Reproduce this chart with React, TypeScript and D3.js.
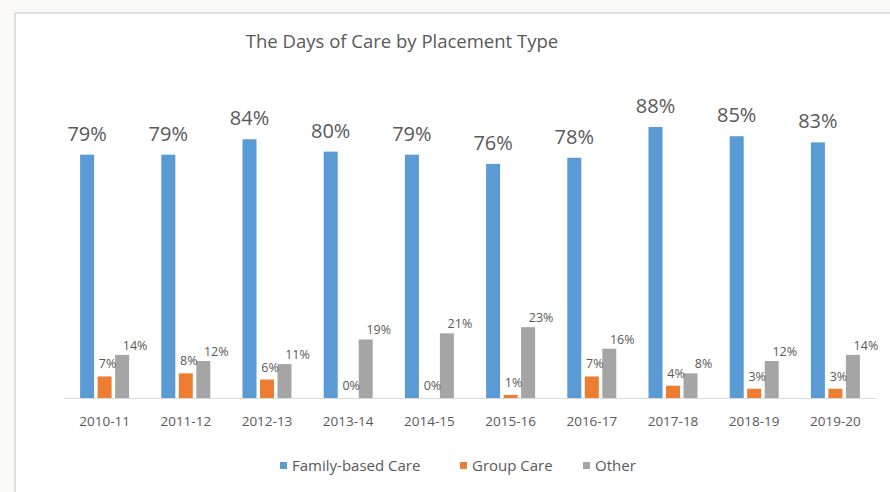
import React, { useEffect } from "react";
import * as d3 from "d3";

const categories = ["2010-11", "2011-12", "2012-13", "2013-14", "2014-15", "2015-16", "2016-17", "2017-18", "2018-19", "2019-20"];
const familyBased = [79, 79, 84, 80, 79, 76, 78, 88, 85, 83];
const groupCare = [7, 8, 6, 0, 0, 1, 7, 4, 3, 3];
const other = [14, 12, 11, 19, 21, 23, 16, 8, 12, 14];
const seriesNames = ["Family-based Care", "Group Care", "Other"];
const seriesColors = ["#5b9bd5", "#ed7d31", "#a5a5a5"];
const title = "The Days of Care by Placement Type";

const W = 890;
const H = 492;
const FONT = "'Open Sans', 'Noto Sans', sans-serif";
const TXT = "#595959";

export default function App() {
  useEffect(() => {
    document.body.style.margin = "0";
    document.body.style.overflow = "hidden";
    document.documentElement.style.overflow = "hidden";
  }, []);

  const x = d3.scaleBand<string>().domain(categories).range([64, 876]).padding(0);
  const y = d3.scaleLinear().domain([0, 100]).range([398, 90]);
  const series = [familyBased, groupCare, other];
  const barW = 14;
  const spacing = 17.5;

  const cx = (c: string) => (x(c) as number) + x.bandwidth() / 2;

  return (
    <svg width={W} height={H} style={{ position: "absolute", left: 0, top: 0, display: "block" }} fontFamily={FONT}>
      <rect x={0} y={0} width={W} height={H} fill="#fcfaf6" />
      <rect x={15} y={13} width={W - 15} height={H - 13} fill="#ffffff" />
      <line x1={15} x2={W} y1={13} y2={13} stroke="#d8dfe7" strokeWidth={2} />
      <line x1={15} x2={15} y1={13} y2={H} stroke="#d8dfe7" strokeWidth={2} />
      <text x={402} y={48} textAnchor="middle" fontSize={18.5} fill={TXT}>{title}</text>

      {series.map((vals, si) =>
        categories.map((c, i) => {
          const bx = cx(c) + (si - 1) * spacing - barW / 2;
          const top = y(vals[i]);
          return (
            <rect key={`b${si}-${i}`} x={bx} y={top} width={barW} height={y(0) - top} fill={seriesColors[si]} />
          );
        })
      )}

      <line x1={64} x2={876} y1={398.5} y2={398.5} stroke="#d9d9d9" strokeWidth={1} />

      {categories.map((c, i) => (
        <text key={`t${i}`} x={cx(c)} y={426} textAnchor="middle" fontSize={13.5} fill={TXT}>{c}</text>
      ))}

      {categories.map((c, i) => (
        <text key={`lf${i}`} x={cx(c) - spacing} y={y(familyBased[i]) - 14} textAnchor="middle" fontSize={20} fill={TXT}>
          {familyBased[i]}%
        </text>
      ))}
      {categories.map((c, i) => (
        <text key={`lg${i}`} x={cx(c) + 3} y={y(groupCare[i]) - 8} textAnchor="middle" fontSize={12.5} fill={TXT}>
          {groupCare[i]}%
        </text>
      ))}
      {categories.map((c, i) => (
        <text key={`lo${i}`} x={cx(c) + spacing + 13} y={y(other[i]) - 5} textAnchor="middle" fontSize={12.5} fill={TXT}>
          {other[i]}%
        </text>
      ))}

      {seriesNames.map((n, si) => {
        const lx = [280, 460, 583][si];
        return (
          <g key={`lg-${si}`}>
            <rect x={lx} y={462} width={7} height={7} fill={seriesColors[si]} />
            <text x={lx + 12} y={471} fontSize={15} fill={TXT}>{n}</text>
          </g>
        );
      })}
    </svg>
  );
}
